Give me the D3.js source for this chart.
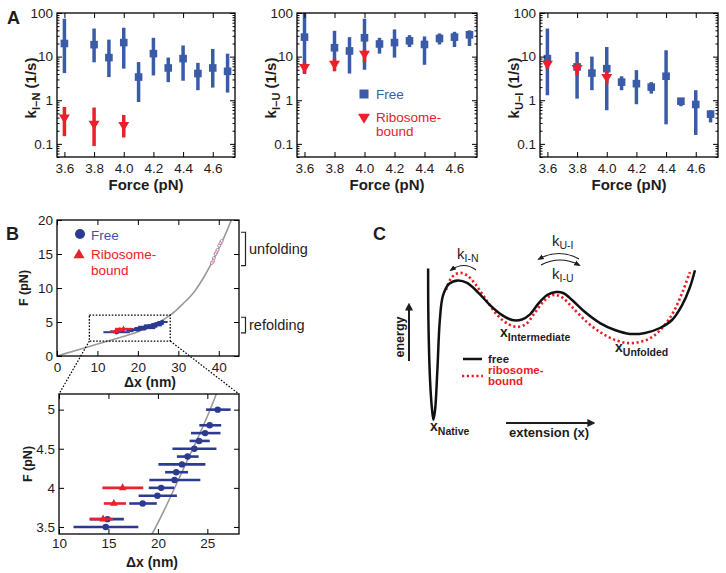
<!doctype html>
<html>
<head>
<meta charset="UTF-8">
<title>Folding kinetics</title>
<script src="https://cdn.jsdelivr.net/npm/d3@7"></script>
<style>
  body { margin: 0; background: #fff; }
  svg { font-family: "Liberation Sans", Arial, Helvetica, sans-serif; }
</style>
</head>
<body>
<script>
// ---- panel A data (rates, 1/s) ----
var forces    = [3.6, 3.8, 3.9, 4.0, 4.1, 4.2, 4.3, 4.4, 4.5, 4.6, 4.7];
var ribForces = [3.6, 3.8, 4.0];

var kinFree   = [20, 18.8, 9.5, 21, 3.4, 11.7, 5.5, 9, 4.1, 5.5, 4.6];
var kinFreeLo = [4.2, 7.4, 3.4, 5.3, 0.91, 3.7, 2.6, 2.8, 1.7, 1.95, 1.5];
var kinFreeHi = [74, 44, 24.5, 46, 7.5, 27, 9.5, 18, 7.2, 15, 11.7];
var kinRib    = [0.40, 0.29, 0.27];
var kinRibLo  = [0.15, 0.089, 0.14];
var kinRibHi  = [0.70, 0.68, 0.46];

var kiuFree   = [28, 16, 13.5, 27, 19.5, 21, 23, 19, 26, 28, 31.6];
var kiuFreeLo = [4, 5.8, 4.1, 5, 11.7, 9.5, 16.6, 6.5, 19, 16.6, 17.5];
var kiuFreeHi = [130, 39, 28, 74, 27, 42, 31, 29, 34, 37, 40];
var kiuRib    = [5.8, 6.9, 11.7];
var kiuRibLo  = [4.2, 4.6, 7.5];
var kiuRibHi  = [7.3, 9, 14.5];

var kuiFree   = [9, 5.8, 4.2, 5.3, 2.6, 2.4, 2.0, 3.55, 0.95, 0.8, 0.48];
var kuiFreeLo = [1.3, 1.09, 1.7, 0.59, 1.7, 0.81, 1.42, 0.28, 0.73, 0.16, 0.31];
var kuiFreeHi = [44, 12.8, 10, 16.6, 3.55, 4.9, 2.6, 14, 1.13, 1.7, 0.59];
var kuiRib    = [6.9, 5.5, 3.4];
var kuiRibLo  = [5.3, 3.7, 2.4];
var kuiRibHi  = [8.5, 7.2, 4.5];

var xTicksA = [3.6, 3.8, 4.0, 4.2, 4.4, 4.6];
var yTicksA = [0.1, 1, 10, 100];

// ---- panel B data (force vs extension) ----
var refF  = [3.5, 3.6, 3.8, 3.9, 4.0, 4.1, 4.2, 4.3, 4.4, 4.5, 4.6, 4.7, 4.8, 5.0];
var refX  = [14.73, 14.9, 18.46, 19.95, 20.33, 21.68, 21.85, 22.43, 23.0, 23.68, 24.16, 24.77, 25.24, 26.05];
var refLo = [11.47, 13.1, 17.1, 18.05, 19.07, 19.13, 20.73, 20.05, 21.92, 21.47, 23.2, 23.35, 24.19, 24.87];
var refHi = [18.02, 16.56, 19.89, 21.92, 21.65, 24.29, 23.04, 24.8, 24.12, 25.92, 25.24, 26.33, 26.4, 27.35];
var ribF  = [3.6, 3.8, 4.0];
var ribX  = [14.46, 15.54, 16.43];
var ribLo = [13.1, 14.53, 14.39];
var ribHi = [15.47, 16.77, 18.52];

var unfF    = [13.7, 14.4, 15.0, 15.6, 16.2, 16.9];
var unfX    = [38.3, 38.8, 39.2, 39.7, 40.1, 40.7];
var unfRibF = [14.0, 15.3, 16.6];
var unfRibX = [38.6, 39.4, 40.4];

var wlcX = [0, 4, 8, 12, 16, 19.4, 22.6, 25.9, 28, 31, 34, 36.5, 38.5, 40.5, 42, 43.5, 45];
var wlcF = [0, 0.7, 1.4, 2.1, 2.8, 3.41, 4.25, 5.2, 6.0, 7.6, 9.5, 11.8, 14.0, 16.4, 18.4, 20.6, 22.8];

var zoomBoxX = [8, 28];
var zoomBoxF = [2.2, 6];

var xTicksB = [0, 10, 20, 30, 40];
var yTicksB = [0, 5, 10, 15, 20];
var xTicksL = [10, 15, 20, 25];
var yTicksL = [3.5, 4, 4.5, 5];

// ---- panel C data (energy landscape, arbitrary units) ----
var freeX = [2.9, 3.0, 3.6, 4.3, 4.8, 5.4, 6.2, 7.1, 8.2, 10.4, 13.6, 16.8, 20.7, 25, 29.3, 32.9, 36.4, 39.3, 42.1, 45.4, 48.6, 51.1, 54.3, 58.9, 64.3, 69.6, 75, 80.4, 85.7, 90, 93.6, 96.4, 98.2];
var freeE = [95, 65, 29, 12, 6, 12, 35, 65, 79, 86, 88, 86.5, 81, 73.5, 67.6, 64.7, 65, 68, 74, 79.4, 81.2, 80.6, 76.5, 69.4, 62.9, 58.8, 56.5, 57.1, 60, 64.7, 73.5, 84, 94];
var ribX2 = [9.3, 10.7, 12.5, 14.6, 17.1, 20, 23.9, 27.9, 31.4, 34.6, 37.9, 40.7, 43.6, 46.4, 48.6, 51.1, 54.6, 59.6, 64.3, 68.9, 73.9, 78.6, 82.9, 87.1, 90.7, 93.9, 96.4];
var ribE2 = [82.4, 88.2, 91.5, 92.4, 90.6, 85.3, 75.9, 67.1, 62.4, 60.6, 62.4, 68.2, 74.7, 78.8, 79.4, 77.6, 71.8, 63.5, 57.6, 53.5, 51.2, 51.8, 54.7, 61.2, 70, 81.8, 92.9];

var blueA = "#3a5ba8", redA = "#e8212a", navy = "#2d3a92", ink = "#1f1c1d";

var svg = d3.select("body").append("svg").attr("width", 726).attr("height", 573);
var defs = svg.append("defs");
defs.append("marker").attr("id", "ah").attr("viewBox", "0 0 10 10")
    .attr("refX", 7).attr("refY", 5).attr("markerWidth", 4).attr("markerHeight", 4)
    .attr("orient", "auto-start-reverse")
    .append("path").attr("d", "M0,0L10,5L0,10z").attr("fill", ink);
defs.append("marker").attr("id", "ahs").attr("viewBox", "0 0 10 10")
    .attr("refX", 7).attr("refY", 5).attr("markerWidth", 6).attr("markerHeight", 6)
    .attr("orient", "auto-start-reverse")
    .append("path").attr("d", "M0,1L10,5L0,9z").attr("fill", ink);

function triDown(w, h) { return "M" + (-w) + "," + (-h / 3) + "L" + w + "," + (-h / 3) + "L0," + (2 * h / 3) + "Z"; }
function triUp(w, h) { return "M" + (-w) + "," + (h / 3) + "L" + w + "," + (h / 3) + "L0," + (-2 * h / 3) + "Z"; }

function styleAxis(g, fs) {
  g.attr("font-family", null).attr("font-size", null);
  g.select(".domain").remove();
  g.selectAll("line").attr("stroke", "#000").attr("stroke-width", 1);
  g.selectAll("text").attr("font-size", fs).attr("fill", ink);
}

function boxAxes(x, y, l, r, t, b, xt, yt, xfmt, yfmt, fs, minor, pad) {
  var g = svg.append("g");
  styleAxis(g.append("g").attr("transform", "translate(0," + b + ")")
    .call(d3.axisBottom(x).tickValues(xt).tickSize(-5).tickPadding(pad || 6).tickFormat(xfmt)), fs);
  styleAxis(g.append("g").attr("transform", "translate(0," + t + ")")
    .call(d3.axisTop(x).tickValues(xt).tickSize(-5).tickFormat("")), fs);
  styleAxis(g.append("g").attr("transform", "translate(" + l + ",0)")
    .call(d3.axisLeft(y).tickValues(yt).tickSize(-5).tickPadding(4).tickFormat(yfmt)), fs);
  styleAxis(g.append("g").attr("transform", "translate(" + r + ",0)")
    .call(d3.axisRight(y).tickValues(yt).tickSize(-5).tickFormat("")), fs);
  if (minor) {
    styleAxis(g.append("g").attr("transform", "translate(" + l + ",0)")
      .call(d3.axisLeft(y).tickValues(minor).tickSize(-2.5).tickFormat("")), fs);
    styleAxis(g.append("g").attr("transform", "translate(" + r + ",0)")
      .call(d3.axisRight(y).tickValues(minor).tickSize(-2.5).tickFormat("")), fs);
  }
  g.append("rect").attr("x", l).attr("y", t).attr("width", r - l).attr("height", b - t)
    .attr("fill", "none").attr("stroke", "#000").attr("stroke-width", 1.3);
  return g;
}

function clip(id, l, t, r, b) {
  defs.append("clipPath").attr("id", id).append("rect")
    .attr("x", l).attr("y", t).attr("width", r - l).attr("height", b - t);
  return svg.append("g").attr("clip-path", "url(#" + id + ")");
}

// ================= Panel A =================
var aTop = 13, aBottom = 157;
var minorA = [];
[0.01, 0.1, 1, 10].forEach(function (dec) {
  for (var k = 2; k <= 9; k++) { var v = k * dec; if (v >= 0.05 && v < 100) minorA.push(v); }
});

function ratePanel(p) {
  var x = d3.scaleLinear().domain([3.55, 4.75]).range([p.left, p.right]);
  var y = d3.scaleLog().domain([0.05, 100]).range([aBottom, aTop]);
  var m = clip("clipA" + p.id, p.left, aTop, p.right, aBottom);

  m.selectAll(null).data(forces).enter().append("line")
    .attr("x1", d => x(d)).attr("x2", d => x(d))
    .attr("y1", (d, i) => y(p.lo[i])).attr("y2", (d, i) => y(p.hi[i]))
    .attr("stroke", blueA).attr("stroke-width", 3.5);
  m.selectAll(null).data(forces).enter().append("rect")
    .attr("x", d => x(d) - 3.8).attr("y", (d, i) => y(p.free[i]) - 3.8)
    .attr("width", 7.6).attr("height", 7.6).attr("fill", blueA);

  m.selectAll(null).data(ribForces).enter().append("line")
    .attr("x1", d => x(d)).attr("x2", d => x(d))
    .attr("y1", (d, i) => y(p.rlo[i])).attr("y2", (d, i) => y(p.rhi[i]))
    .attr("stroke", redA).attr("stroke-width", 3.5);
  m.selectAll(null).data(ribForces).enter().append("path")
    .attr("transform", (d, i) => "translate(" + x(d) + "," + y(p.rib[i]) + ")")
    .attr("d", triDown(5.5, 9)).attr("fill", redA);

  boxAxes(x, y, p.left, p.right, aTop, aBottom, xTicksA, yTicksA,
    d3.format(".1f"), d => String(d), 13.5, minorA);

  svg.append("text").attr("x", (p.left + p.right) / 2).attr("y", 190)
    .attr("text-anchor", "middle").attr("font-weight", "bold").attr("font-size", 15)
    .attr("fill", ink).text("Force (pN)");

  var t = svg.append("text").attr("transform", "translate(" + (p.left - 21) + ",88) rotate(-90)")
    .attr("text-anchor", "middle").attr("font-weight", "bold").attr("font-size", 15).attr("fill", ink);
  t.append("tspan").text("k");
  t.append("tspan").attr("dy", 4).attr("font-size", 11).text(p.sub);
  t.append("tspan").attr("dy", -4).text(" (1/s)");
}

ratePanel({ id: 1, left: 57, right: 235, sub: "I\u2212N", free: kinFree, lo: kinFreeLo, hi: kinFreeHi, rib: kinRib, rlo: kinRibLo, rhi: kinRibHi });
ratePanel({ id: 2, left: 297, right: 477, sub: "I\u2212U", free: kiuFree, lo: kiuFreeLo, hi: kiuFreeHi, rib: kiuRib, rlo: kiuRibLo, rhi: kiuRibHi });
ratePanel({ id: 3, left: 540, right: 718, sub: "U\u2212I", free: kuiFree, lo: kuiFreeLo, hi: kuiFreeHi, rib: kuiRib, rlo: kuiRibLo, rhi: kuiRibHi });

// legend in middle panel
svg.append("rect").attr("x", 359.5).attr("y", 89.5).attr("width", 9).attr("height", 9).attr("fill", blueA);
svg.append("text").attr("x", 376).attr("y", 99).attr("font-size", 13.5).attr("fill", blueA).text("Free");
svg.append("path").attr("transform", "translate(364,117)").attr("d", triDown(6, 10)).attr("fill", redA);
svg.append("text").attr("x", 376).attr("y", 122).attr("font-size", 13.5).attr("fill", redA).text("Ribosome-");
svg.append("text").attr("x", 376).attr("y", 136).attr("font-size", 13.5).attr("fill", redA).text("bound");

// ================= Panel B =================
var xB = d3.scaleLinear().domain([0, 45]).range([57, 239]);
var yB = d3.scaleLinear().domain([0, 20]).range([356, 220]);
var xL = d3.scaleLinear().domain([10, 28.2]).range([59, 239]);
var yL = d3.scaleLinear().domain([3.41, 5.2]).range([534, 394]);

var wlc = wlcX.map((d, i) => [d, wlcF[i]]);

function fdPanel(x, y, l, r, t, b, id, rad, bw, tw) {
  var m = clip(id, l, t, r, b);
  m.append("path").datum(wlc)
    .attr("d", d3.line().x(d => x(d[0])).y(d => y(d[1])).curve(d3.curveMonotoneX))
    .attr("fill", "none").attr("stroke", "#9a9a9a").attr("stroke-width", 1.6);
  m.selectAll(null).data(refF).enter().append("line")
    .attr("x1", (d, i) => x(refLo[i])).attr("x2", (d, i) => x(refHi[i]))
    .attr("y1", d => y(d)).attr("y2", d => y(d))
    .attr("stroke", navy).attr("stroke-width", bw);
  m.selectAll(null).data(refF).enter().append("circle")
    .attr("cx", (d, i) => x(refX[i])).attr("cy", d => y(d)).attr("r", rad).attr("fill", navy);
  m.selectAll(null).data(ribF).enter().append("line")
    .attr("x1", (d, i) => x(ribLo[i])).attr("x2", (d, i) => x(ribHi[i]))
    .attr("y1", d => y(d)).attr("y2", d => y(d))
    .attr("stroke", redA).attr("stroke-width", bw);
  m.selectAll(null).data(ribF).enter().append("path")
    .attr("transform", (d, i) => "translate(" + x(ribX[i]) + "," + y(d) + ")")
    .attr("d", triUp(tw, tw * 1.8)).attr("fill", redA);
  return m;
}

var mB = fdPanel(xB, yB, 57, 239, 220, 356, "clipB1", 2.2, 2, 2.8);
// unfolding events (small open markers)
mB.selectAll(null).data(unfF).enter().append("circle")
  .attr("cx", (d, i) => xB(unfX[i])).attr("cy", d => yB(d)).attr("r", 1.5)
  .attr("fill", "#fff").attr("stroke", "#6f80c4").attr("stroke-width", 0.8);
mB.selectAll(null).data(unfRibF).enter().append("path")
  .attr("transform", (d, i) => "translate(" + xB(unfRibX[i]) + "," + yB(d) + ")")
  .attr("d", triUp(1.8, 3.2)).attr("fill", "#fff").attr("stroke", "#f06a70").attr("stroke-width", 0.8);

boxAxes(xB, yB, 57, 239, 220, 356, xTicksB, yTicksB, d => String(d), d => String(d), 13.5, null);

fdPanel(xL, yL, 59, 239, 394, 534, "clipB2", 3.2, 2.6, 3.8);
boxAxes(xL, yL, 59, 239, 394, 534, xTicksL, yTicksL, d => String(d), d => String(d), 13.5, null, 4);

// zoom box and connectors
var dotted = "1.6,1.6";
svg.append("rect").attr("x", xB(zoomBoxX[0])).attr("y", yB(zoomBoxF[1]))
  .attr("width", xB(zoomBoxX[1]) - xB(zoomBoxX[0])).attr("height", yB(zoomBoxF[0]) - yB(zoomBoxF[1]))
  .attr("fill", "none").attr("stroke", "#000").attr("stroke-width", 1.3).attr("stroke-dasharray", dotted);
svg.append("line").attr("x1", xB(zoomBoxX[0])).attr("y1", yB(zoomBoxF[0])).attr("x2", xL(10)).attr("y2", yL(5.2))
  .attr("stroke", "#000").attr("stroke-width", 1.2).attr("stroke-dasharray", dotted);
svg.append("line").attr("x1", xB(zoomBoxX[1])).attr("y1", yB(zoomBoxF[0])).attr("x2", xL(28.2)).attr("y2", yL(5.2))
  .attr("stroke", "#000").attr("stroke-width", 1.2).attr("stroke-dasharray", dotted);

// axis titles B
function fLabel(xp, yp, fs) {
  svg.append("text").attr("transform", "translate(" + xp + "," + yp + ") rotate(-90)")
    .attr("text-anchor", "middle").attr("font-weight", "bold").attr("font-size", fs).attr("fill", ink).text("F (pN)");
}
fLabel(28, 288, 12.5);
fLabel(32, 464, 12.5);
svg.append("text").attr("x", 150).attr("y", 387).attr("text-anchor", "middle").attr("font-weight", "bold")
  .attr("font-size", 14).attr("fill", ink).text("\u0394x (nm)");
svg.append("text").attr("x", 152).attr("y", 567).attr("text-anchor", "middle").attr("font-weight", "bold")
  .attr("font-size", 14).attr("fill", ink).text("\u0394x (nm)");

// legend B
svg.append("circle").attr("cx", 80).attr("cy", 234).attr("r", 5).attr("fill", navy);
svg.append("text").attr("x", 91).attr("y", 239.5).attr("font-size", 13.5).attr("fill", "#3c55a5").text("Free");
svg.append("path").attr("transform", "translate(79,255)").attr("d", triUp(5.5, 9.5)).attr("fill", redA);
svg.append("text").attr("x", 91).attr("y", 258.5).attr("font-size", 13.5).attr("fill", redA).text("Ribosome-");
svg.append("text").attr("x", 91).attr("y", 274.5).attr("font-size", 13.5).attr("fill", redA).text("bound");

// brackets
function bracket(f0, f1, label) {
  var y0 = yB(f1), y1 = yB(f0);
  svg.append("path").attr("d", "M241," + y0 + "H245.5V" + y1 + "H241")
    .attr("fill", "none").attr("stroke", "#222").attr("stroke-width", 1.2);
  svg.append("text").attr("x", 249).attr("y", (y0 + y1) / 2 + 5).attr("font-size", 14.5).attr("fill", ink).text(label);
}
bracket(13.3, 18.2, "unfolding");
bracket(3.4, 5.7, "refolding");

// ================= Panel C =================
var cx = d3.scaleLinear().domain([0, 100]).range([420, 700]);
var ce = d3.scaleLinear().domain([0, 100]).range([430, 260]);
var land = d3.line().x(d => cx(d[0])).y(d => ce(d[1])).curve(d3.curveCatmullRom.alpha(0.5));

svg.append("path").datum(ribX2.map((d, i) => [d, ribE2[i]])).attr("d", land)
  .attr("fill", "none").attr("stroke", "#ed1c24").attr("stroke-width", 2.6)
  .attr("stroke-dasharray", "2.2,2.6");
svg.append("path").datum(freeX.map((d, i) => [d, freeE[i]])).attr("d", land)
  .attr("fill", "none").attr("stroke", "#111").attr("stroke-width", 2.5).attr("stroke-linejoin", "round");

// axis arrows
svg.append("line").attr("x1", 409).attr("y1", 361).attr("x2", 409).attr("y2", 305)
  .attr("stroke", ink).attr("stroke-width", 2).attr("marker-end", "url(#ah)");
svg.append("text").attr("transform", "translate(404,337) rotate(-90)").attr("text-anchor", "middle")
  .attr("font-weight", "bold").attr("font-size", 12.5).attr("fill", ink).text("energy");
svg.append("line").attr("x1", 506).attr("y1", 423).attr("x2", 593).attr("y2", 423)
  .attr("stroke", ink).attr("stroke-width", 2).attr("marker-end", "url(#ah)");
svg.append("text").attr("x", 509).attr("y", 437).attr("font-weight", "bold").attr("font-size", 13)
  .attr("fill", ink).text("extension (x)");

// state labels
function stateLabel(xp, yp, sub) {
  var t = svg.append("text").attr("x", xp).attr("y", yp).attr("font-weight", "bold").attr("fill", ink).attr("font-size", 14);
  t.append("tspan").text("x");
  t.append("tspan").attr("dy", 4).attr("font-size", 10.5).text(sub);
}
stateLabel(500, 337, "Intermediate");
stateLabel(615, 352, "Unfolded");
stateLabel(430, 431, "Native");

// rate labels and arcs
function rateLabel(xp, yp, sub) {
  var t = svg.append("text").attr("x", xp).attr("y", yp).attr("fill", ink).attr("font-size", 15);
  t.append("tspan").text("k");
  t.append("tspan").attr("dy", 3).attr("font-size", 10.5).text(sub);
}
rateLabel(457, 259, "I-N");
rateLabel(552, 246, "U-I");
rateLabel(552, 279, "I-U");

function arc(d) {
  svg.append("path").attr("d", d).attr("fill", "none").attr("stroke", ink)
    .attr("stroke-width", 1.1).attr("marker-end", "url(#ahs)");
}
arc("M476,270Q464,261 451,270");
arc("M579,259Q559,248 539,259");
arc("M541,265Q560,255 579,265");

// legend C
svg.append("line").attr("x1", 463).attr("x2", 482).attr("y1", 359).attr("y2", 359)
  .attr("stroke", "#111").attr("stroke-width", 2.5);
svg.append("text").attr("x", 488).attr("y", 363).attr("font-weight", "bold").attr("font-size", 11.5).attr("fill", ink).text("free");
svg.append("line").attr("x1", 462).attr("x2", 483).attr("y1", 376).attr("y2", 376)
  .attr("stroke", "#ed1c24").attr("stroke-width", 2.5).attr("stroke-dasharray", "2.2,2.6");
svg.append("text").attr("x", 488).attr("y", 374).attr("font-weight", "bold").attr("font-size", 11.5).attr("fill", "#ed1c24").text("ribosome-");
svg.append("text").attr("x", 488).attr("y", 385).attr("font-weight", "bold").attr("font-size", 11.5).attr("fill", "#ed1c24").text("bound");

// panel letters
[["A", 7, 24], ["B", 6, 240], ["C", 373, 240]].forEach(function (p) {
  svg.append("text").attr("x", p[1]).attr("y", p[2]).attr("font-weight", "bold")
    .attr("font-size", 18).attr("fill", ink).text(p[0]);
});
</script>
</body>
</html>
